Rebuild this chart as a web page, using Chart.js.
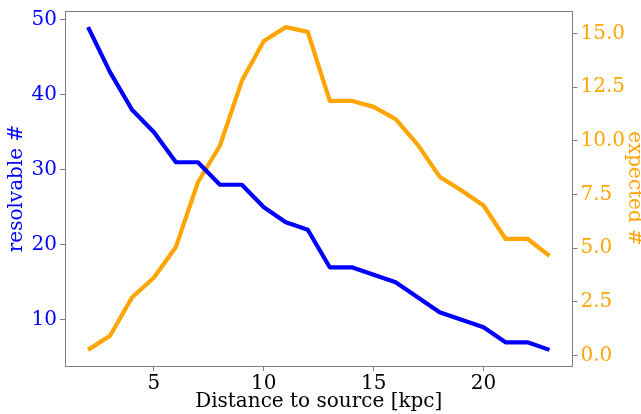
<!DOCTYPE html>
<html>
<head>
<meta charset="utf-8">
<script src="https://cdn.jsdelivr.net/npm/chart.js@4"></script>
<style>
html,body{margin:0;padding:0;background:#fff;}
#wrap{width:641px;height:414px;}
</style>
</head>
<body>
<div id="wrap"><canvas id="c" width="641" height="414"></canvas></div>
<script>
const distances = [2,3,4,5,6,7,8,9,10,11,12,13,14,15,16,17,18,19,20,21,22,23];
const resolvable = [49,43,38,35,31,31,28,28,25,23,22,17,17,16,15,13,11,10,9,7,7,6];
const expected = [0.27,0.93,2.71,3.64,5.06,8.07,9.77,12.79,14.64,15.29,15.07,11.86,11.86,11.58,11.01,9.82,8.33,7.69,6.99,5.44,5.44,4.64];
const xTicks = [5,10,15,20];
const leftTicks = [10,20,30,40,50];
const rightTicks = [0,2.5,5,7.5,10,12.5,15];

const BLUE = '#0000ff', ORANGE = '#ffa500', AXIS = '#808080', FONT = 'DejaVu Serif';

function pad(arr){ const mn=Math.min(...arr), mx=Math.max(...arr), r=mx-mn; return [mn-0.05*r, mx+0.05*r]; }
const [xMin,xMax] = pad(distances);
const [lMin,lMax] = pad(resolvable);
const [rMin,rMax] = pad(expected);

function zeroPad(s){ s.paddingTop = 0; s.paddingBottom = 0; s.paddingLeft = 0; s.paddingRight = 0; }

const frame = {
  id:'frame',
  afterDraw(chart){
    const {ctx, chartArea:a} = chart;
    ctx.save();
    ctx.strokeStyle = AXIS; ctx.lineWidth = 1;
    ctx.beginPath(); ctx.moveTo(a.left, a.top+0.5); ctx.lineTo(a.right, a.top+0.5); ctx.stroke();
    ctx.restore();
  }
};

new Chart(document.getElementById('c'), {
  type:'line',
  data:{
    datasets:[
      {label:'resolvable #', data: distances.map((d,i)=>({x:d,y:resolvable[i]})), borderColor:BLUE, borderWidth:4.2, pointRadius:0, yAxisID:'yL', tension:0, borderJoinStyle:'round'},
      {label:'expected #', data: distances.map((d,i)=>({x:d,y:expected[i]})), borderColor:ORANGE, borderWidth:4.2, pointRadius:0, yAxisID:'yR', tension:0, borderJoinStyle:'round'}
    ]
  },
  options:{
    responsive:false, animation:false,
    layout:{padding:{top:11,left:0,right:0,bottom:0}},
    plugins:{legend:{display:false}, tooltip:{enabled:false}},
    scales:{
      x:{
        type:'linear', min:xMin, max:xMax,
        afterBuildTicks:s=>{s.ticks = xTicks.map(v=>({value:v}));},
        afterFit:s=>{s.height = 48; zeroPad(s);},
        grid:{display:true, drawOnChartArea:false, drawTicks:true, tickLength:5, color:AXIS},
        border:{display:true, color:AXIS, width:1},
        ticks:{color:'#000', font:{family:FONT, size:20}, padding:1, maxRotation:0},
        title:{display:true, text:'Distance to source [kpc]', color:'#000', font:{family:FONT, size:20}, padding:{top:0,bottom:0}}
      },
      yL:{
        type:'linear', position:'left', min:lMin, max:lMax,
        afterBuildTicks:s=>{s.ticks = leftTicks.map(v=>({value:v}));},
        afterFit:s=>{s.width = 65; zeroPad(s);},
        grid:{display:true, drawOnChartArea:false, drawTicks:true, tickLength:5, color:AXIS},
        border:{display:true, color:AXIS, width:1},
        ticks:{color:BLUE, font:{family:FONT, size:20}, padding:3},
        title:{display:true, text:'resolvable #', color:BLUE, font:{family:FONT, size:20}, padding:{top:5,bottom:0}}
      },
      yR:{
        type:'linear', position:'right', min:rMin, max:rMax,
        afterBuildTicks:s=>{s.ticks = rightTicks.map(v=>({value:v}));},
        afterFit:s=>{s.width = 68.5; zeroPad(s);},
        grid:{display:true, drawOnChartArea:false, drawTicks:true, tickLength:5, color:AXIS},
        border:{display:true, color:AXIS, width:1},
        ticks:{color:ORANGE, font:{family:FONT, size:20}, padding:3, callback:v=>Number(v).toFixed(1)},
        title:{display:true, text:'expected #', color:ORANGE, font:{family:FONT, size:20}, padding:{top:-5,bottom:0}}
      }
    }
  },
  plugins:[frame]
});
</script>
</body>
</html>
